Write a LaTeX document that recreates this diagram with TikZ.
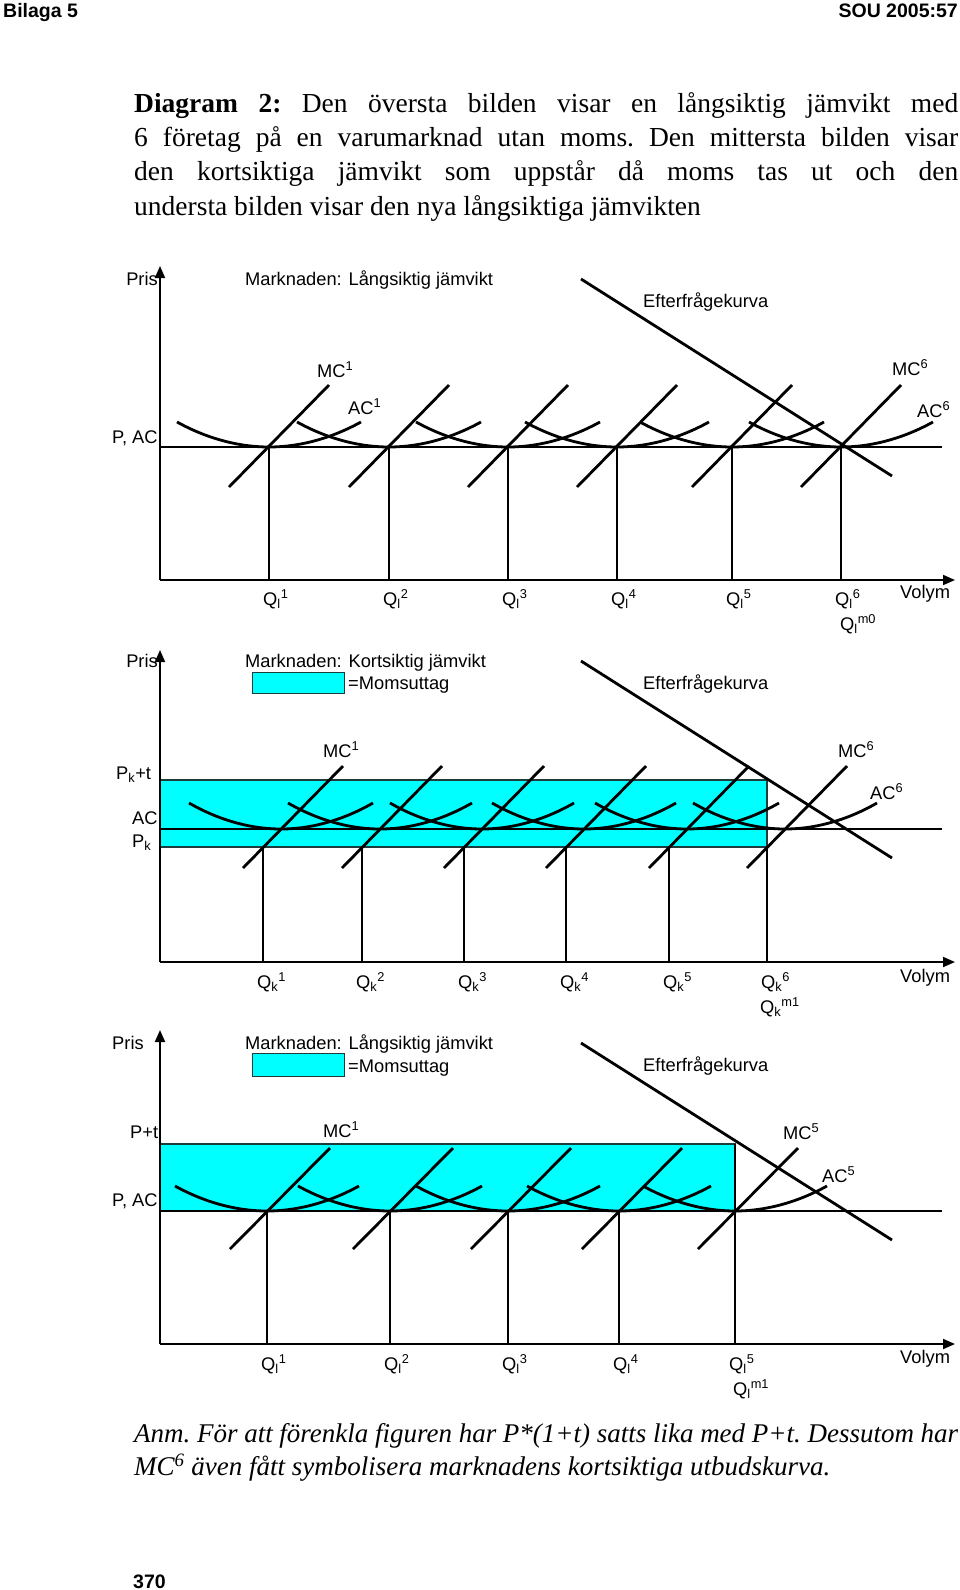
\documentclass[tikz,border=0pt]{standalone}
\usepackage{fontspec}
\setmainfont{Liberation Serif}
\newfontfamily\diafont{Liberation Sans}
\newfontfamily\sidfont{Liberation Sans}
\usetikzlibrary{arrows.meta}
\definecolor{moms}{RGB}{0,255,255}
\definecolor{kant}{RGB}{30,60,60}
\newcommand{\ql}[1]{Q\textsubscript{l}\textsuperscript{#1}}
\newcommand{\qk}[1]{Q\textsubscript{k}\textsuperscript{#1}}
\begin{document}
\begin{tikzpicture}[x=1pt,y=-1pt]
  \tikzstyle{every node} = [inner sep=0pt, anchor=base west, font=\diafont\fontsize{18.3}{21}\selectfont]
  \tikzstyle{kurva} = [line width=2.8pt]
  \tikzstyle{tunn} = [line width=1.2pt]
  \tikzstyle{axel} = [line width=1.8pt, -{Triangle[length=12pt,width=10pt]}]
  \tikzstyle{momsyta} = [fill=moms, draw=kant, line width=1.2pt]
  \tikzstyle{sid} = [font=\sidfont\bfseries\fontsize{19.5}{21}\selectfont]
  \fill[white] (0,0) rectangle (960,1590);
  \useasboundingbox (0,0) rectangle (960,1590);
  \node[sid] (bilaga) at (3,17) {Bilaga 5};
  \node[sid, anchor=base east] (sou) at (958,17) {SOU 2005:57};
  \node[anchor=north west, text width=824pt, align=justify, font=\frenchspacing\fontsize{27.5}{34.3}\selectfont] (rubrik) at (134,92)
    {\textbf{Diagram 2:} Den översta bilden visar en långsiktig jämvikt med\linebreak
     6 företag på en varumarknad utan moms. Den mittersta bilden visar\linebreak
     den kortsiktiga jämvikt som uppstår då moms tas ut och den\linebreak
     understa bilden visar den nya långsiktiga jämvikten};
  \begin{scope}
    \node[anchor=base east] (pris1) at (158,285) {Pris};
    \node (titel1) at (245,285) {Marknaden: Långsiktig jämvikt};
    \node (eft1) at (643,307) {Efterfrågekurva};
    \node (mca1) at (317,377) {MC\textsuperscript{1}};
    \node (aca1) at (348,414) {AC\textsuperscript{1}};
    \node (mcb1) at (892,375) {MC\textsuperscript{6}};
    \node (acb1) at (917,417) {AC\textsuperscript{6}};
    \node (p1) at (112,443) {P, AC};
    \node (vol1) at (900,598) {Volym};
    \node (qm0) at (840,630) {\ql{m0}};
    \coordinate (o1) at (160,580);
    \draw[axel] (o1) -- (160,266);
    \draw[axel] (o1) -- (955,580);
    \draw[tunn] (160,447) -- (942,447);
    \foreach \q [count=\i] in {269,389,508,617,732,841}{
      \coordinate (l\i) at (\q,447);
      \draw[tunn] (l\i) -- (\q,580);
      \draw[kurva] (\q-40,487) -- (\q+60,385);
      \draw[kurva] (\q-92,422) parabola bend (l\i) (\q+92,422);
      \node (ql\i) at (\q-6,605) {\ql{\i}};
    }
    \draw[kurva] (581,279) -- (892,476);
  \end{scope}
  \begin{scope}
    \node[anchor=base east] (pris2) at (158,667) {Pris};
    \node (titel2) at (245,667) {Marknaden: Kortsiktig jämvikt};
    \node[momsyta, anchor=north west, minimum width=92pt, minimum height=21pt] (ruta2) at (252,672) {};
    \node (moms2) at (348,689) {=Momsuttag};
    \node (eft2) at (643,689) {Efterfrågekurva};
    \node (pt2) at (116,779) {P\textsubscript{k}+t};
    \node (ac2) at (132,824) {AC};
    \node (pk2) at (132,847) {P\textsubscript{k}};
    \node (mca2) at (323,757) {MC\textsuperscript{1}};
    \node (aca2) at (353,801) {AC\textsuperscript{1}};
    \node (mcb2) at (838,757) {MC\textsuperscript{6}};
    \node (acb2) at (870,799) {AC\textsuperscript{6}};
    \node (vol2) at (900,982) {Volym};
    \node (qm1) at (760,1013) {\qk{m1}};
    \draw[momsyta] (160,780) rectangle (767,847);
    \coordinate (o2) at (160,962);
    \draw[axel] (o2) -- (160,650);
    \draw[axel] (o2) -- (955,962);
    \draw[tunn] (160,829) -- (942,829);
    \foreach \q [count=\i] in {263,362,464,566,669,767}{
      \coordinate (k\i) at (\q,847);
      \draw[tunn] (k\i) -- (\q,962);
      \draw[kurva] (\q-20,868) -- (\q+80,766);
      \draw[kurva] (\q-74,803) parabola bend (\q+18,829) (\q+110,803);
      \node (qk\i) at (\q-6,988) {\qk{\i}};
    }
    \draw[kurva] (581,661) -- (892,858);
  \end{scope}
  \begin{scope}
    \node (pris3) at (112,1049) {Pris};
    \node (titel3) at (245,1049) {Marknaden: Långsiktig jämvikt};
    \node[momsyta, anchor=north west, minimum width=92pt, minimum height=23pt] (ruta3) at (252,1053) {};
    \node (moms3) at (348,1072) {=Momsuttag};
    \node (eft3) at (643,1071) {Efterfrågekurva};
    \node (pt3) at (130,1138) {P+t};
    \node (p3) at (112,1206) {P, AC};
    \node (mca3) at (323,1137) {MC\textsuperscript{1}};
    \node (aca3) at (353,1178) {AC\textsuperscript{1}};
    \node (mcb3) at (783,1139) {MC\textsuperscript{5}};
    \node (acb3) at (822,1182) {AC\textsuperscript{5}};
    \node (vol3) at (900,1363) {Volym};
    \node (qn1) at (733,1395) {\ql{m1}};
    \draw[momsyta] (160,1144) rectangle (735,1211);
    \coordinate (o3) at (160,1344);
    \draw[axel] (o3) -- (160,1030);
    \draw[axel] (o3) -- (955,1344);
    \draw[tunn] (160,1211) -- (942,1211);
    \foreach \q [count=\i] in {267,390,508,619,735}{
      \coordinate (n\i) at (\q,1211);
      \draw[tunn] (n\i) -- (\q,1344);
      \draw[kurva] (\q-37,1249) -- (\q+63,1148);
      \draw[kurva] (\q-92,1186) parabola bend (n\i) (\q+92,1186);
      \node (qn\i) at (\q-6,1370) {\ql{\i}};
    }
    \draw[kurva] (735,1144) -- (n5);
    \draw[kurva] (581,1043) -- (892,1240);
  \end{scope}
  \node[anchor=north west, text width=824pt, align=justify, font=\frenchspacing\itshape\fontsize{27}{33.5}\selectfont] (anm) at (134,1423)
    {Anm. För att förenkla figuren har P*(1+t) satts lika med P+t. Dessutom har\linebreak
     MC\textsuperscript{6} även fått symbolisera marknadens kortsiktiga utbudskurva.};
  \node[sid] (sida) at (133,1588) {370};
\end{tikzpicture}
\end{document}
